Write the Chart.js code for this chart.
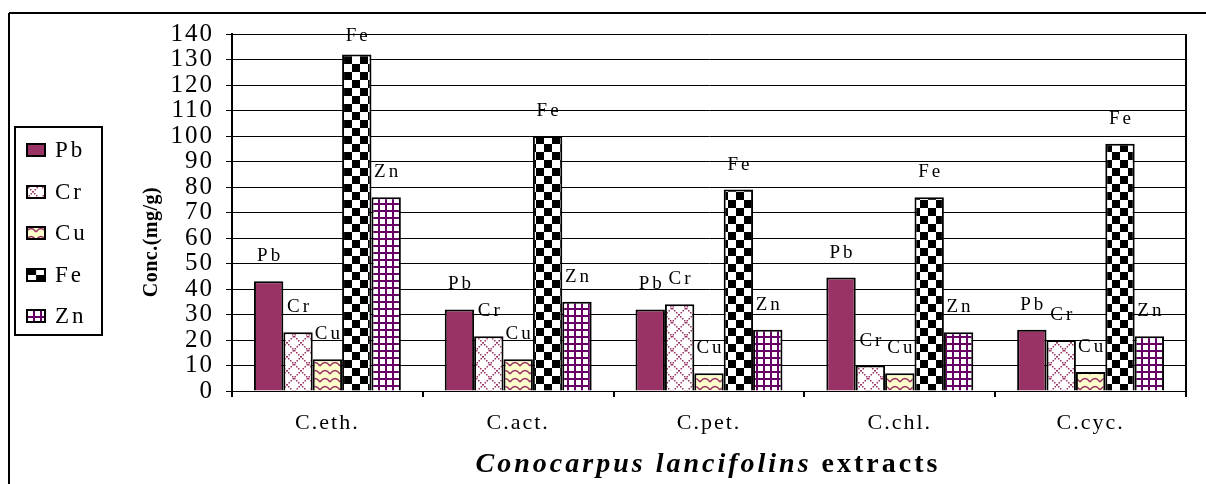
<!DOCTYPE html>
<html><head><meta charset="utf-8">
<script src="https://cdn.jsdelivr.net/npm/chart.js@4.4.0/dist/chart.umd.min.js"></script>
<style>html,body{margin:0;padding:0;background:#fff;overflow:hidden}#wrap{width:1206px;height:484px;position:relative}</style>
</head><body><div id="wrap"><canvas id="c" width="1206" height="484"></canvas></div>
<script>
const categories = ['C.eth.', 'C.act.', 'C.pet.', 'C.chl.', 'C.cyc.'];
const seriesNames = ['Pb', 'Cr', 'Cu', 'Fe', 'Zn'];
const pbValues = [43, 32, 32, 44.5, 24];
const crValues = [23, 21.5, 34, 10, 20];
const cuValues = [12.5, 12.5, 7, 7, 7.5];
const feValues = [132, 100, 79, 76, 97];
const znValues = [76, 35, 24, 23, 21.5];
const yMin = 0, yMax = 140, yStep = 10;
const xTitleItalic = 'Conocarpus lancifolins';
const xTitleRest = ' extracts';
const yTitle = 'Conc.(mg/g)';

const canvas = document.getElementById('c');
const mainCtx = canvas.getContext('2d');
const SERIF = '"Liberation Serif", "Times New Roman", serif';

function makePattern(w, h, draw) {
  const t = document.createElement('canvas');
  t.width = w; t.height = h;
  const g = t.getContext('2d');
  draw(g, w, h);
  return mainCtx.createPattern(t, 'repeat');
}
const pbFill = '#993366';
const crFill = makePattern(14, 14, (g, w, h) => {
  g.fillStyle = '#fff'; g.fillRect(0, 0, w, h);
  g.fillStyle = '#993366';
  for (let i = 0; i < w; i += 2) {
    g.fillRect(i, i, 1.5, 1.5);
    g.fillRect(w - 1.5 - i, i, 1.5, 1.5);
  }
});
const cuFill = makePattern(10, 8, (g, w, h) => {
  g.fillStyle = '#FFFFCC'; g.fillRect(0, 0, w, h);
  g.strokeStyle = '#993366'; g.lineWidth = 1.4;
  g.beginPath(); g.moveTo(0, 6); g.quadraticCurveTo(5, -1, 10, 6); g.stroke();
});
const feFill = makePattern(16, 16, (g, w, h) => {
  g.fillStyle = '#fff'; g.fillRect(0, 0, w, h);
  g.fillStyle = '#000'; g.fillRect(0, 0, 8, 8); g.fillRect(8, 8, 8, 8);
});
const znFill = makePattern(7, 7, (g, w, h) => {
  g.fillStyle = '#fff'; g.fillRect(0, 0, w, h);
  g.fillStyle = '#660066'; g.fillRect(0, 0, 2, h); g.fillRect(0, 0, w, 2);
});
const fills = [pbFill, crFill, cuFill, feFill, znFill];
const values = [pbValues, crValues, cuValues, feValues, znValues];

const decorPlugin = {
  id: 'decor',
  beforeDraw(chart) {
    chart.ctx.letterSpacing = '2px';
  },
  afterDatasetsDraw(chart) {
    const ctx = chart.ctx;
    ctx.save();
    ctx.letterSpacing = '3px';
    ctx.font = '19px ' + SERIF;
    ctx.fillStyle = '#000';
    ctx.textAlign = 'center';
    ctx.textBaseline = 'alphabetic';
    chart.data.datasets.forEach((ds, i) => {
      const meta = chart.getDatasetMeta(i);
      meta.data.forEach(bar => {
        const y = Math.max(bar.y - 20, 41);
        ctx.fillText(ds.label, bar.x + 1.5, y);
      });
    });
    ctx.restore();
  },
  afterDraw(chart) {
    const ctx = chart.ctx;
    const a = chart.chartArea;
    ctx.save();
    ctx.strokeStyle = '#000';
    ctx.lineWidth = 2;
    ctx.beginPath();
    ctx.moveTo(9, 13); ctx.lineTo(1206, 13);
    ctx.moveTo(9, 13); ctx.lineTo(9, 484);
    ctx.stroke();
    ctx.beginPath();
    ctx.moveTo(Math.round(a.right), a.top); ctx.lineTo(Math.round(a.right), a.bottom + 6);
    ctx.stroke();
    // y title
    ctx.save();
    ctx.letterSpacing = '0.5px';
    ctx.translate(152, 242);
    ctx.rotate(-Math.PI / 2);
    ctx.font = 'bold 20px ' + SERIF;
    ctx.fillStyle = '#000';
    ctx.textAlign = 'center';
    ctx.textBaseline = 'middle';
    ctx.fillText(yTitle, 0, 0);
    ctx.restore();
    // x title
    ctx.save();
    ctx.letterSpacing = '3px';
    ctx.fillStyle = '#000';
    ctx.textBaseline = 'alphabetic';
    ctx.textAlign = 'left';
    ctx.font = 'italic bold 28px ' + SERIF;
    const w1 = ctx.measureText(xTitleItalic).width;
    ctx.font = 'bold 28px ' + SERIF;
    const w2 = ctx.measureText(xTitleRest).width;
    const cx = (a.left + a.right) / 2 - 1;
    const x0 = cx - (w1 + w2) / 2;
    ctx.font = 'italic bold 28px ' + SERIF;
    ctx.fillText(xTitleItalic, x0, 472);
    ctx.font = 'bold 28px ' + SERIF;
    ctx.fillText(xTitleRest, x0 + w1, 472);
    ctx.restore();
    // legend
    ctx.lineWidth = 2;
    ctx.strokeRect(15, 127, 87, 208);
    chart.data.datasets.forEach((ds, i) => {
      const yc = 150 + i * 41.5;
      ctx.save();
      ctx.translate(26, Math.round(yc - 7));
      ctx.save();
      if (i === 3) ctx.scale(1.25, 0.875);
      ctx.fillStyle = ds.backgroundColor;
      ctx.fillRect(0, 0, i === 3 ? 16 : 20, i === 3 ? 16 : 14);
      ctx.restore();
      ctx.lineWidth = 2;
      ctx.strokeStyle = '#000';
      ctx.strokeRect(1, 1, 18, 12);
      ctx.restore();
      ctx.save();
      ctx.letterSpacing = '3px';
      ctx.font = '23px ' + SERIF;
      ctx.fillStyle = '#000';
      ctx.textAlign = 'left';
      ctx.textBaseline = 'middle';
      ctx.fillText(ds.label, 55, yc + 1);
      ctx.restore();
    });
    ctx.restore();
  }
};

new Chart(mainCtx, {
  type: 'bar',
  data: {
    labels: categories,
    datasets: seriesNames.map((name, i) => ({
      label: name,
      data: values[i],
      backgroundColor: fills[i],
      borderColor: '#000',
      borderWidth: 2,
      categoryPercentage: 0.77,
      barPercentage: 1.0
    }))
  },
  options: {
    responsive: false,
    animation: false,
    devicePixelRatio: 1,
    layout: { padding: { top: 34, right: 20, bottom: 0, left: 0 } },
    plugins: { legend: { display: false }, tooltip: { enabled: false }, title: { display: false } },
    scales: {
      x: {
        afterFit(scale) { scale.height = 93; },
        grid: { drawOnChartArea: false, drawTicks: true, tickLength: 6, color: '#000', lineWidth: 2 },
        border: { display: true, color: '#000', width: 1 },
        ticks: { color: '#000', font: { family: SERIF, size: 22 }, padding: 13, maxRotation: 0 }
      },
      y: {
        min: yMin, max: yMax,
        afterFit(scale) { scale.width = 232; },
        grid: { color: '#000', lineWidth: 1, tickLength: 6 },
        border: { display: true, color: '#000', width: 2 },
        ticks: { stepSize: yStep, autoSkip: false, color: '#000', font: { family: SERIF, size: 25 }, padding: 12 }
      }
    }
  },
  plugins: [decorPlugin]
});
</script></body></html>
